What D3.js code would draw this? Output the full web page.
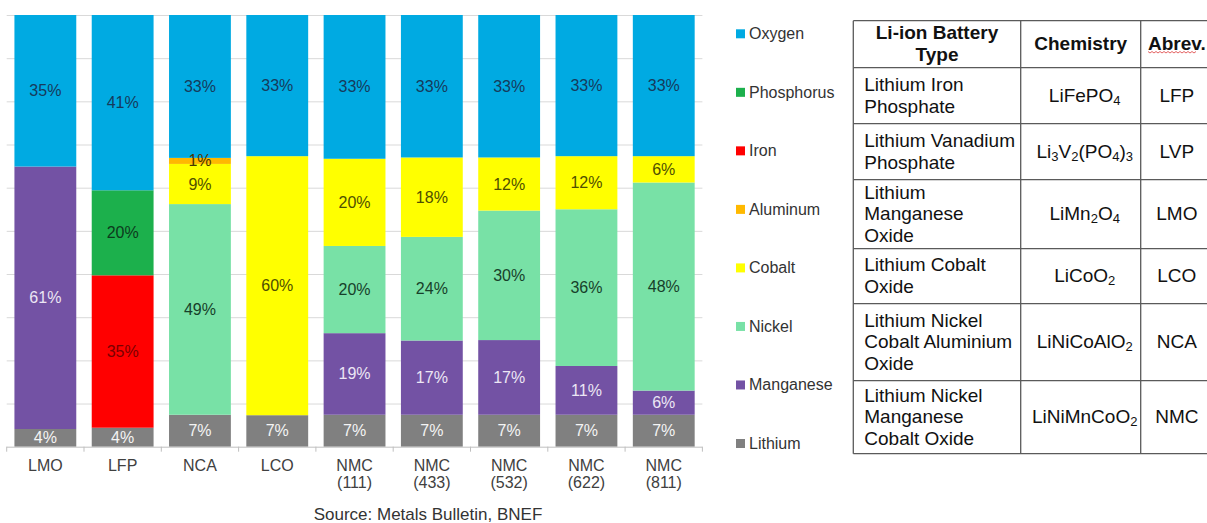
<!DOCTYPE html>
<html>
<head>
<meta charset="utf-8">
<script src="https://cdn.jsdelivr.net/npm/d3@7"></script>
<style>
  html, body { margin: 0; padding: 0; background: #ffffff; }
  svg { display: block; font-family: "Liberation Sans", Arial, sans-serif; }
</style>
</head>
<body>
<svg id="chart" width="1207" height="523"></svg>
<script>
"use strict";

// categories along the x axis
const categories = ["LMO", "LFP", "NCA", "LCO", "NMC (111)", "NMC (433)", "NMC (532)", "NMC (622)", "NMC (811)"];

// elements, stacked bottom to top
const elements = ["Lithium", "Manganese", "Nickel", "Cobalt", "Aluminum", "Iron", "Phosphorus", "Oxygen"];

// share of each element per chemistry (%)
const lithium    = [4.1, 4.4, 7.4, 7.3, 7.4, 7.4, 7.4, 7.4, 7.4];
const manganese  = [60.8, 0, 0, 0, 18.9, 17.2, 17.3, 11.3, 5.6];
const nickel     = [0, 0, 48.8, 0, 20.2, 24.0, 30.0, 36.3, 48.2];
const cobalt     = [0, 0, 9.3, 60.0, 20.2, 18.4, 12.3, 12.3, 6.1];
const aluminum   = [0, 0, 1.4, 0, 0, 0, 0, 0, 0];
const iron       = [0, 35.3, 0, 0, 0, 0, 0, 0, 0];
const phosphorus = [0, 19.7, 0, 0, 0, 0, 0, 0, 0];
const oxygen     = [35.1, 40.6, 33.1, 32.7, 33.3, 33.0, 33.0, 32.7, 32.7];

const seriesValues = [lithium, manganese, nickel, cobalt, aluminum, iron, phosphorus, oxygen];

const fillColors  = ["#808080", "#7352a4", "#78e1a6", "#ffff00", "#ffb900", "#ff0000", "#1cb04c", "#00aae2"];
const labelColors = ["#f4f4f4", "#ece6f4", "#173f2a", "#4f4f00", "#4a3500", "#7a0000", "#0c3a1c", "#163a5c"];

// table next to the chart
const tableHeader = [["Li-ion Battery", "Type"], ["Chemistry"], ["Abrev."]];
const batteryTypes = [
  ["Lithium Iron", "Phosphate"],
  ["Lithium Vanadium", "Phosphate"],
  ["Lithium", "Manganese", "Oxide"],
  ["Lithium Cobalt", "Oxide"],
  ["Lithium Nickel", "Cobalt Aluminium", "Oxide"],
  ["Lithium Nickel", "Manganese", "Cobalt Oxide"]
];
const chemistries = ["LiFePO_4", "Li_3V_2(PO_4)_3", "LiMn_2O_4", "LiCoO_2", "LiNiCoAlO_2", "LiNiMnCoO_2"];
const abbrevs = ["LFP", "LVP", "LMO", "LCO", "NCA", "NMC"];

const sourceNote = "Source: Metals Bulletin, BNEF";

const svg = d3.select("#chart");

// scales
const plotLeft = 6.7, plotRight = 702.4, plotTop = 15, plotBottom = 446.7;
const x = d3.scaleBand().domain(categories).range([plotLeft, plotRight]).paddingInner(0.2).paddingOuter(0.1);
const y = d3.scaleLinear().domain([0, 100]).range([plotBottom, plotTop]);
const color = d3.scaleOrdinal().domain(elements).range(fillColors);
const labelColor = d3.scaleOrdinal().domain(elements).range(labelColors);

// gridlines
svg.append("g")
  .attr("transform", `translate(${plotLeft},0)`)
  .call(d3.axisLeft(y).tickValues(d3.range(10, 101, 10)).tickSize(-(plotRight - plotLeft)).tickFormat(""))
  .call(g => g.select(".domain").remove())
  .call(g => g.selectAll("line").attr("stroke", "#d9d9d9"));

// stacked data
const rows = categories.map((c, i) => {
  const r = { category: c };
  elements.forEach((e, j) => { r[e] = seriesValues[j][i]; });
  return r;
});
const stacked = d3.stack().keys(elements)(rows);

const layers = svg.append("g").selectAll("g")
  .data(stacked)
  .join("g")
  .attr("fill", d => color(d.key));

layers.selectAll("rect")
  .data(d => d.filter(s => s[1] - s[0] > 0))
  .join("rect")
  .attr("x", d => x(d.data.category))
  .attr("width", x.bandwidth())
  .attr("y", d => y(d[1]))
  .attr("height", d => y(d[0]) - y(d[1]));

// segment labels
const labelLayers = svg.append("g").selectAll("g")
  .data(stacked)
  .join("g")
  .attr("fill", d => labelColor(d.key));

labelLayers.selectAll("text")
  .data(d => d.filter(s => s[1] - s[0] > 0))
  .join("text")
  .attr("x", d => x(d.data.category) + x.bandwidth() / 2)
  .attr("y", d => (y(d[0]) + y(d[1])) / 2)
  .attr("text-anchor", "middle")
  .attr("dominant-baseline", "central")
  .attr("font-size", 16)
  .text(d => Math.round(d[1] - d[0]) + "%");

// x axis
const xAxis = svg.append("g")
  .attr("transform", `translate(0,${plotBottom})`)
  .call(d3.axisBottom(x).tickSize(0).tickFormat(""));
xAxis.select(".domain").attr("stroke", "#bfbfbf").attr("d", `M${plotLeft},0.5H${plotRight}`);

const boundaries = categories.map(c => x(c) - x.step() * x.paddingOuter()).concat([plotRight]);
xAxis.selectAll(".bound")
  .data(boundaries)
  .join("line")
  .attr("class", "bound")
  .attr("x1", d => d).attr("x2", d => d)
  .attr("y1", 0).attr("y2", 5)
  .attr("stroke", "#bfbfbf");

svg.append("g").selectAll("text")
  .data(categories)
  .join("text")
  .attr("x", d => x(d) + x.bandwidth() / 2)
  .attr("y", 471)
  .attr("text-anchor", "middle")
  .attr("font-size", 16)
  .attr("fill", "#404040")
  .selectAll("tspan")
  .data(d => d.split(" ").map(s => ({ s, cx: x(d) + x.bandwidth() / 2 })))
  .join("tspan")
  .attr("x", d => d.cx)
  .attr("dy", (d, i) => i === 0 ? 0 : 17)
  .text(d => d.s);

svg.append("text")
  .attr("x", 428)
  .attr("y", 520)
  .attr("text-anchor", "middle")
  .attr("font-size", 17)
  .attr("fill", "#333333")
  .text(sourceNote);

// legend
const legendOrder = elements.slice().reverse();
const legendY = d3.scalePoint().domain(legendOrder).range([33.8, 443.5]);
const legend = svg.append("g").selectAll("g")
  .data(legendOrder)
  .join("g")
  .attr("transform", d => `translate(736,${legendY(d)})`);
legend.append("rect")
  .attr("x", 0).attr("y", -4.5)
  .attr("width", 9).attr("height", 9)
  .attr("fill", d => color(d));
legend.append("text")
  .attr("x", 13)
  .attr("dominant-baseline", "central")
  .attr("font-size", 16)
  .attr("fill", "#333333")
  .text(d => d);

// table
const colX = [853.3, 1020.7, 1140.7, 1213];
const rowH = [47, 56, 56, 69, 55, 77, 73];
const rowY = [20.7];
rowH.forEach((h, i) => rowY.push(rowY[i] + h));
const lineH = 21.7;

const table = svg.append("g").attr("font-size", 19).attr("fill", "#111111");

function writeLines(g, lines, cx, cy, anchor) {
  const t = g.append("text")
    .attr("text-anchor", anchor)
    .attr("dominant-baseline", "central");
  lines.forEach((l, i) => {
    t.append("tspan")
      .attr("x", cx)
      .attr("y", cy - 1 + (i - (lines.length - 1) / 2) * lineH)
      .text(l);
  });
  return t;
}

// header
tableHeader.forEach((lines, j) => {
  const cx = (colX[j] + colX[j + 1]) / 2;
  const cy = (rowY[0] + rowY[1]) / 2;
  writeLines(table, lines, cx, cy, "middle").attr("font-weight", "bold");
});

// red spell-check squiggle under "Abrev"
const sq = d3.range(0, 50, 2);
table.append("path")
  .attr("d", d3.line()(sq.map((v, i) => [1148 + v, 52 + (i % 2 ? 1 : -0.5)])))
  .attr("fill", "none")
  .attr("stroke", "#e05050")
  .attr("stroke-width", 0.9);

batteryTypes.forEach((lines, i) => {
  const cy = (rowY[i + 1] + rowY[i + 2]) / 2;
  writeLines(table, lines, colX[0] + 11, cy, "start");

  // chemistry with subscripts
  const t = table.append("text")
    .attr("x", (colX[1] + colX[2]) / 2 + 4)
    .attr("y", cy - 1)
    .attr("text-anchor", "middle")
    .attr("dominant-baseline", "central");
  const parts = chemistries[i].split(/(_\d)/).filter(p => p !== "");
  let shifted = false;
  parts.forEach(p => {
    if (p[0] === "_") {
      t.append("tspan").attr("font-size", 13).attr("dy", shifted ? 0 : 5).text(p.slice(1));
      shifted = true;
    } else {
      t.append("tspan").attr("dy", shifted ? -5 : 0).text(p);
      shifted = false;
    }
  });

  writeLines(table, [abbrevs[i]], (colX[2] + colX[3]) / 2, cy, "middle");
});

// grid of the table
const tableLines = svg.append("g").attr("stroke", "#5a5a5a").attr("stroke-width", 1.3);
tableLines.selectAll(".h")
  .data(rowY)
  .join("line")
  .attr("x1", colX[0]).attr("x2", 1222)
  .attr("y1", d => d).attr("y2", d => d);
tableLines.selectAll(".v")
  .data(colX.slice(0, 3))
  .join("line")
  .attr("x1", d => d).attr("x2", d => d)
  .attr("y1", rowY[0]).attr("y2", rowY[rowY.length - 1]);
</script>
</body>
</html>
